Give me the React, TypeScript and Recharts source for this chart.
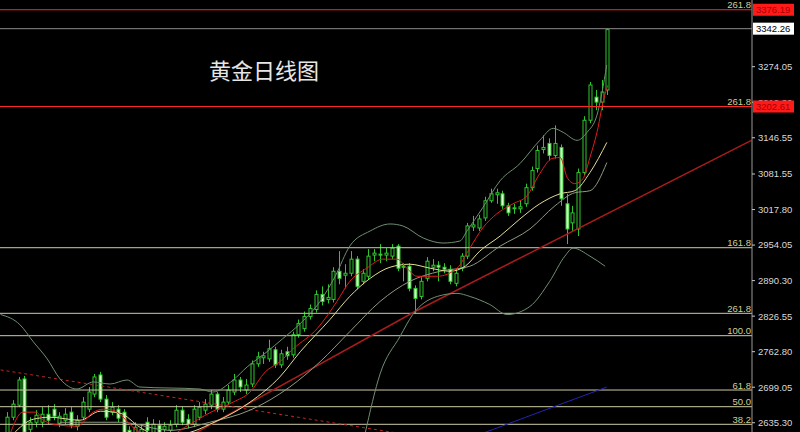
import { ComposedChart, Bar, Line, XAxis, YAxis, ReferenceLine } from 'recharts';

// daily candles, oldest first
const opens = [
  2614.5, 2645.2, 2666.9, 2713.9, 2623.5, 2636.2, 2636.2, 2650.6, 2659.7, 2634.4,
  2639.8, 2654.3, 2629.0, 2645.2, 2659.7, 2686.7, 2721.1, 2677.7, 2654.3, 2659.7,
  2654.3, 2621.7, 2614.5, 2614.5, 2636.2, 2618.1, 2630.8, 2623.5, 2621.7, 2632.6,
  2657.9, 2641.6, 2632.6, 2645.2, 2657.9, 2666.9, 2686.7, 2659.7, 2672.3, 2690.4,
  2712.0, 2694.0, 2704.8, 2740.9, 2751.8, 2749.9, 2766.2, 2739.1, 2762.6, 2757.2,
  2793.3, 2804.1, 2825.8, 2838.5, 2865.5, 2856.5, 2856.5, 2907.1, 2899.9, 2903.5,
  2928.8, 2889.0, 2898.1, 2936.0, 2937.8, 2936.0, 2934.2, 2952.2, 2916.1, 2916.1,
  2876.4, 2861.9, 2894.4, 2914.3, 2917.9, 2914.3, 2910.7, 2885.4, 2912.5, 2934.2,
  2986.5, 2984.7, 3002.8, 3033.5, 3044.3, 3046.1, 3024.5, 3019.1, 3019.1, 3028.1,
  3057.0, 3091.3, 3125.6, 3136.4, 3114.8, 3129.2, 3028.1, 2993.8, 2982.9, 3084.1,
  3178.0, 3219.5, 3210.5, 3232.2,
];
const highs = [
  2654.3, 2675.9, 2717.5, 2719.3, 2645.2, 2657.9, 2663.3, 2666.9, 2668.7, 2654.3,
  2661.5, 2663.3, 2648.8, 2681.3, 2699.4, 2722.9, 2726.5, 2684.9, 2672.3, 2666.9,
  2659.7, 2629.0, 2636.2, 2632.6, 2645.2, 2641.6, 2639.8, 2636.2, 2639.8, 2666.9,
  2665.0, 2650.6, 2666.9, 2672.3, 2677.7, 2694.0, 2690.4, 2681.3, 2703.0, 2722.9,
  2717.5, 2713.9, 2747.0, 2762.6, 2762.6, 2784.3, 2771.6, 2766.2, 2771.6, 2798.7,
  2820.4, 2834.9, 2847.5, 2872.8, 2880.0, 2883.6, 2914.3, 2943.2, 2919.7, 2943.2,
  2934.2, 2910.7, 2946.8, 2946.8, 2955.8, 2948.6, 2955.8, 2955.8, 2921.5, 2921.5,
  2881.8, 2896.3, 2932.4, 2928.8, 2925.1, 2921.5, 2917.9, 2910.7, 2939.6, 2993.8,
  3006.4, 3008.2, 3040.7, 3055.2, 3055.2, 3051.6, 3029.9, 3028.1, 3033.5, 3064.2,
  3094.9, 3132.8, 3150.9, 3145.5, 3168.9, 3134.6, 3046.1, 3024.5, 3091.3, 3185.2,
  3246.6, 3232.2, 3250.2, 3342.3,
];
const lows = [
  2609.1, 2639.8, 2663.3, 2614.5, 2614.5, 2627.2, 2627.2, 2632.6, 2639.8, 2627.2,
  2632.6, 2625.4, 2621.7, 2639.8, 2654.3, 2681.3, 2672.3, 2639.8, 2648.8, 2636.2,
  2607.3, 2591.1, 2607.3, 2609.1, 2614.5, 2611.0, 2612.7, 2618.1, 2614.5, 2627.2,
  2630.8, 2625.4, 2627.2, 2639.8, 2650.6, 2659.7, 2654.3, 2654.3, 2666.9, 2684.9,
  2690.4, 2686.7, 2699.4, 2735.5, 2740.9, 2744.6, 2733.7, 2733.7, 2748.2, 2751.8,
  2787.9, 2798.7, 2820.4, 2833.0, 2845.7, 2849.3, 2851.1, 2883.6, 2876.4, 2898.1,
  2874.6, 2883.6, 2892.6, 2925.1, 2921.5, 2925.1, 2928.8, 2907.1, 2889.0, 2871.0,
  2831.2, 2856.5, 2889.0, 2907.1, 2889.0, 2903.5, 2883.6, 2880.0, 2907.1, 2928.8,
  2979.3, 2979.3, 2997.4, 3029.9, 3028.1, 3019.1, 3006.4, 3010.0, 3011.8, 3022.7,
  3051.6, 3084.1, 3118.4, 3105.7, 3109.3, 3024.5, 2955.8, 2979.3, 2970.3, 3078.7,
  3172.6, 3196.0, 3196.0, 3223.2,
];
const closes = [
  2645.2, 2668.7, 2712.0, 2618.1, 2636.2, 2648.8, 2650.6, 2639.8, 2647.0, 2647.0,
  2650.6, 2630.8, 2639.8, 2672.3, 2690.4, 2717.5, 2677.7, 2645.2, 2663.3, 2643.4,
  2614.5, 2600.1, 2627.2, 2623.5, 2621.7, 2632.6, 2618.1, 2629.0, 2630.8, 2657.9,
  2636.2, 2632.6, 2659.7, 2663.3, 2668.7, 2686.7, 2659.7, 2672.3, 2694.0, 2712.0,
  2699.4, 2703.0, 2740.9, 2753.6, 2755.4, 2768.0, 2739.1, 2759.0, 2755.4, 2793.3,
  2813.2, 2825.8, 2840.3, 2865.5, 2852.9, 2860.1, 2907.1, 2894.4, 2903.5, 2928.8,
  2880.0, 2903.5, 2934.2, 2939.6, 2936.0, 2939.6, 2948.6, 2912.5, 2914.3, 2876.4,
  2858.3, 2889.0, 2925.1, 2917.9, 2914.3, 2910.7, 2889.0, 2903.5, 2934.2, 2988.4,
  2990.2, 3001.0, 3033.5, 3046.1, 3047.9, 3024.5, 3011.8, 3020.9, 3022.7, 3057.0,
  3087.7, 3123.8, 3129.2, 3114.8, 3136.4, 3037.1, 2982.9, 3011.8, 3084.1, 3178.0,
  3241.2, 3210.5, 3228.6, 3340.5,
];

// indicator curves: [bar index, price]
const ma5Points = [
  [0.5, 2614.5], [2.7, 2654.3], [5.1, 2654.3], [6.2, 2639.8], [9.1, 2630.8], [12.0, 2629.0],
  [14.8, 2654.3], [16.5, 2659.7], [18.2, 2657.9], [19.9, 2645.2], [21.6, 2627.2], [24.0, 2612.7],
  [27.1, 2607.3], [30.5, 2627.2], [35.0, 2654.3], [38.8, 2672.3], [41.7, 2690.4], [44.3, 2726.5],
  [46.8, 2744.6], [49.1, 2768.0], [53.2, 2804.1], [56.6, 2852.9], [58.8, 2889.0], [61.7, 2912.5],
  [64.5, 2928.8], [66.9, 2928.8], [68.6, 2912.5], [70.3, 2898.1], [73.8, 2898.1], [77.2, 2912.5],
  [79.4, 2948.6], [81.6, 2984.7], [84.0, 3010.0], [86.8, 3028.1], [89.2, 3042.5], [91.4, 3082.3],
  [93.5, 3109.4], [94.9, 3111.2], [96.1, 3075.0], [97.4, 3064.2], [98.8, 3073.2], [100.0, 3111.2],
  [101.4, 3165.4], [102.2, 3208.7], [103.1, 3241.2],
];
const ma10Points = [
  [1.0, 2614.5], [4.5, 2641.6], [7.4, 2645.2], [12.5, 2639.8], [16.0, 2656.0], [19.4, 2652.4],
  [22.8, 2627.2], [26.2, 2610.9], [31.4, 2618.1], [34.8, 2632.6], [41.7, 2672.3], [46.8, 2717.5],
  [50.3, 2762.6], [55.4, 2820.4], [58.8, 2861.9], [62.3, 2894.4], [65.7, 2914.3], [69.1, 2919.7],
  [72.6, 2912.5], [76.0, 2907.1], [78.6, 2916.1], [81.1, 2943.2], [84.6, 2970.3], [88.0, 3001.0],
  [91.4, 3028.1], [94.9, 3046.1], [97.4, 3051.6], [100.0, 3084.1], [102.9, 3138.2],
];
const bandMidPoints = [
  [9.1, 2636.2], [19.4, 2636.2], [28.0, 2621.7], [34.8, 2636.2], [41.7, 2657.9], [48.5, 2699.4],
  [53.7, 2744.6], [58.8, 2798.7], [64.0, 2852.9], [69.1, 2889.0], [74.3, 2907.1], [79.4, 2916.1],
  [84.6, 2952.2], [89.7, 2982.9], [94.0, 3024.5], [97.4, 3047.9], [100.0, 3051.5], [102.9, 3102.1],
];
const bandUpperPoints = [
  [-1.1, 2829.4], [2.2, 2811.4], [4.5, 2780.7], [6.9, 2749.9], [9.1, 2713.9], [12.0, 2695.8],
  [14.8, 2708.5], [17.7, 2704.8], [20.6, 2712.0], [22.8, 2699.4], [33.1, 2695.8], [35.3, 2690.4],
  [38.8, 2712.0], [41.2, 2735.5], [44.6, 2762.6], [47.3, 2786.1], [50.3, 2813.2], [53.7, 2852.9],
  [56.3, 2898.1], [58.8, 2952.2], [62.3, 2979.3], [65.7, 2991.9], [67.9, 2988.4], [71.4, 2966.7],
  [74.8, 2957.7], [77.7, 2961.3], [78.9, 2979.3], [81.6, 3020.9], [84.6, 3069.6], [88.0, 3100.3],
  [91.4, 3141.9], [93.7, 3163.5], [95.4, 3156.3], [97.8, 3141.9], [99.5, 3156.3], [101.2, 3187.0],
  [102.9, 3277.3],
];
const bandLowerPoints = [
  [61.4, 2614.5], [64.0, 2722.9], [67.4, 2789.7], [69.6, 2829.4], [73.8, 2861.9], [77.2, 2867.4],
  [79.4, 2861.9], [82.8, 2847.5], [85.8, 2829.4], [89.7, 2843.9], [93.1, 2889.0], [95.7, 2934.2],
  [97.1, 2948.6], [100.0, 2934.2], [102.6, 2916.1],
];
const trendUpPoints = [[31.9, 2614.5], [70.0, 2834.9], [127.7, 3141.9]];
const trendDownPoints = [[-1.1, 2730.1], [70.0, 2611.8]];
const longMaPoints = [[76.0, 2594.6], [102.9, 2699.4]];

// horizontal levels
const fibLevels = [2949.3, 2831.6, 2791.5, 2694.0, 2664.1, 2632.5];
const fibTexts = ['161.8', '261.8', '100.0', '61.8', '50.0', '38.2'];
const yTicks = [3274.05, 3210.3, 3146.55, 3081.55, 3017.8, 2954.05, 2890.3, 2826.55, 2762.8, 2699.05, 2635.3];

const candles = opens.map((o, i) => ({
  x: i,
  o,
  h: highs[i],
  l: lows[i],
  c: closes[i],
  range: [lows[i], highs[i]],
}));
const toRows = (pts: number[][]) => pts.map(([x, v]) => ({ x, v }));

const FONT = '"Liberation Sans", Arial, sans-serif';

function Candle(props: any) {
  const { x, y, width, height, payload } = props;
  const { o, h, l, c } = payload;
  const cx = Math.round(x + width / 2) + 0.5;
  const px = (v: number) => y + ((h - v) / (h - l || 1)) * height;
  const top = px(Math.max(o, c));
  const bot = px(Math.min(o, c));
  const bull = c >= o;
  return (
    <g>
      <line x1={cx} x2={cx} y1={y} y2={y + height} stroke="#2ec82e" strokeWidth={1} />
      <rect
        x={cx - 1.5}
        y={top}
        width={3}
        height={Math.max(bot - top, 1)}
        fill={bull ? '#000' : '#d4ffc8'}
        stroke="#2ec82e"
        strokeWidth={1}
      />
    </g>
  );
}

function LevelLabel(props: any) {
  const { viewBox, text, box, boxFill, boxColor } = props;
  if (!viewBox) return null;
  const right = viewBox.x + viewBox.width;
  const y = viewBox.y;
  return (
    <g>
      {text && (
        <text x={right - 1} y={y - 1.5} textAnchor="end" fontSize={9.5} fill="#d2cf96" fontFamily={FONT}>
          {text}
        </text>
      )}
      {box && (
        <g>
          <rect x={right + 1} y={y - 6} width={41} height={12} fill={boxFill} />
          <text x={right + 4} y={y + 3.5} fontSize={9.5} fill={boxColor} fontFamily={FONT}>
            {box}
          </text>
        </g>
      )}
    </g>
  );
}

const lineProps = { dot: false, activeDot: false, isAnimationActive: false, dataKey: 'v' };

export default function App() {
  return (
    <div style={{ position: 'absolute', left: 0, top: 0, width: 800, height: 432, background: '#000', overflow: 'hidden' }}>
      <ComposedChart width={800} height={432} data={candles} margin={{ top: 0, right: 0, bottom: 0, left: 0 }}>
        <XAxis type="number" dataKey="x" domain={[-1.2, 127.8]} hide allowDataOverflow />
        <YAxis
          orientation="right"
          width={48}
          domain={[2618.7, 3393.7]}
          ticks={yTicks}
          interval={0}
          allowDataOverflow
          axisLine={{ stroke: '#9a9a9a' }}
          tickLine={{ stroke: '#c8c8c8' }}
          tickSize={3}
          tickMargin={3}
          tick={{ fill: '#d8d8d8', fontSize: 9.5, fontFamily: FONT }}
          tickFormatter={(v: number) => v.toFixed(2)}
        />

        {fibLevels.map((v, i) => (
          <ReferenceLine key={fibTexts[i] + v} y={v} stroke="#cfcca4" strokeWidth={1} label={<LevelLabel text={fibTexts[i]} />} />
        ))}

        <Bar dataKey="range" barSize={4} shape={<Candle />} isAnimationActive={false} />

        <Line {...lineProps} data={toRows(trendDownPoints)} type="linear" stroke="#c42424" strokeDasharray="3 3" strokeWidth={1} />
        <Line {...lineProps} data={toRows(longMaPoints)} type="linear" stroke="#2424b4" strokeWidth={1} />
        <Line {...lineProps} data={toRows(trendUpPoints)} type="linear" stroke="#a81c1c" strokeWidth={1.5} />
        <Line {...lineProps} data={toRows(bandUpperPoints)} type="monotone" stroke="#6f8f72" strokeWidth={1} />
        <Line {...lineProps} data={toRows(bandLowerPoints)} type="monotone" stroke="#6f8f72" strokeWidth={1} />
        <Line {...lineProps} data={toRows(bandMidPoints)} type="monotone" stroke="#8e9a80" strokeWidth={1} />
        <Line {...lineProps} data={toRows(ma10Points)} type="monotone" stroke="#e2dc94" strokeWidth={1} />
        <Line {...lineProps} data={toRows(ma5Points)} type="monotone" stroke="#e31c1c" strokeWidth={1} />

        <ReferenceLine zIndex={2500} y={3376.19} stroke="#ff2a2a" strokeWidth={1} label={<LevelLabel text="261.8" box="3376.19" boxFill="#ff1a1a" boxColor="#a80000" />} />
        <ReferenceLine zIndex={2500} y={3342.26} stroke="#8c8c8c" strokeWidth={1} label={<LevelLabel box="3342.26" boxFill="#ffffff" boxColor="#000000" />} />
        <ReferenceLine zIndex={2500} y={3202.61} stroke="#ff2a2a" strokeWidth={1} label={<LevelLabel text="261.8" box="3202.61" boxFill="#ff1a1a" boxColor="#a80000" />} />
      </ComposedChart>
      <div
        style={{
          position: 'absolute',
          left: 209,
          top: 55,
          color: '#e6e6e6',
          fontSize: 22,
          lineHeight: '29px',
          fontFamily: '"Noto Sans CJK SC", sans-serif',
          whiteSpace: 'nowrap',
        }}
      >
        黄金日线图
      </div>
    </div>
  );
}
